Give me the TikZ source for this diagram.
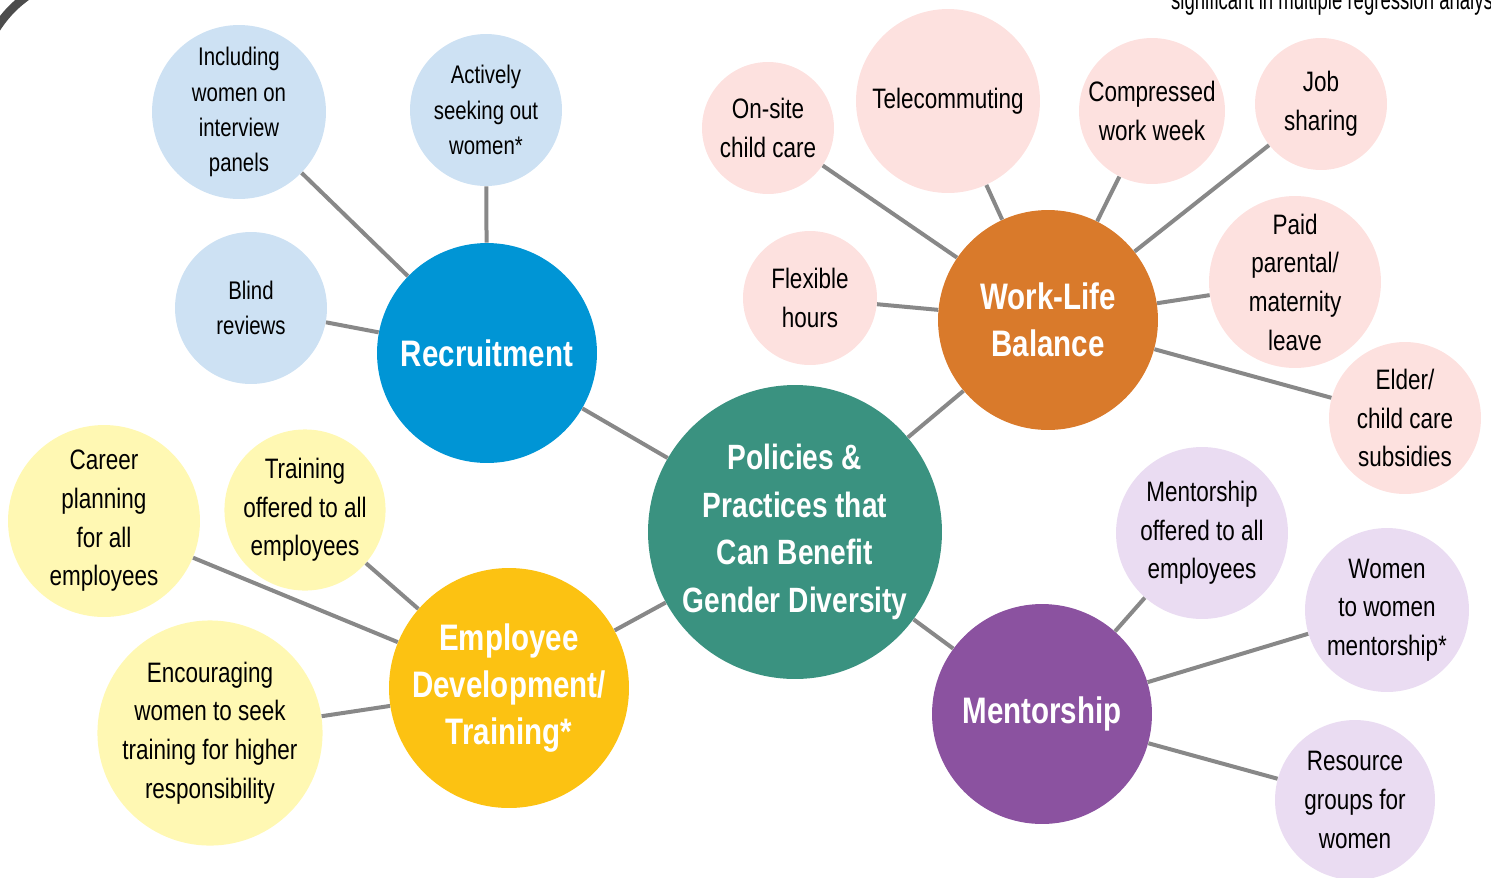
\documentclass[tikz,border=0pt]{standalone}
\usepackage{fontspec}
\setmainfont{Liberation Sans}[FakeStretch=0.8]
\newfontfamily\notefont{Liberation Sans}[FakeStretch=0.66]
\definecolor{polteal}{HTML}{3A9280}
\definecolor{recblue}{HTML}{0095D5}
\definecolor{wlborange}{HTML}{D97A2B}
\definecolor{devyellow}{HTML}{FCC212}
\definecolor{menpurple}{HTML}{8B52A0}
\definecolor{recleaf}{HTML}{CDE1F3}
\definecolor{wlbleaf}{HTML}{FDE1DF}
\definecolor{devleaf}{HTML}{FFF8B3}
\definecolor{menleaf}{HTML}{EADCF2}
\definecolor{linkgray}{HTML}{888888}
\begin{document}
\begin{tikzpicture}
[x=0.02cm,y=-0.02cm,
hub/.style={shape=circle,inner sep=0pt,align=center,text=white,font=\bfseries\fontsize{21}{27}\selectfont},
leaf/.style={shape=circle,inner sep=0pt,align=center,font=\fontsize{16}{22}\selectfont},
recleaf/.style={leaf,fill=recleaf,font=\fontsize{14.5}{20}\selectfont},
wlbleaf/.style={leaf,fill=wlbleaf},
devleaf/.style={leaf,fill=devleaf},
menleaf/.style={leaf,fill=menleaf},
link/.style={draw=linkgray,line width=0.08cm}]

\useasboundingbox (0,0) rectangle (1491,877);
\draw[line width=0.17cm,draw=black!70] (-6,32) .. controls (4,16) and (14,5) .. (30,-6);
\node[anchor=base west,font=\notefont\fontsize{16}{18}\selectfont] (note) at (1165,9) {significant in multiple regression analysis};

\node[hub,fill=polteal,minimum size=5.88cm,font=\bfseries\fontsize{20}{27}\selectfont] (policies) at (795,532) {Policies \&\\Practices that\\Can Benefit\\Gender Diversity};
\node[hub,fill=recblue,minimum size=4.4cm] (recruit) at (487,353) {Recruitment};
\node[hub,fill=wlborange,minimum size=4.4cm] (wlb) at (1048,320) {Work-Life\\Balance};
\node[hub,fill=devyellow,minimum size=4.8cm] (dev) at (509,688) {Employee\\Development/\\Training*};
\node[hub,fill=menpurple,minimum size=4.4cm] (ment) at (1042,714) {Mentorship};

\node[recleaf,minimum size=3.48cm] (including) at (239,112) {Including\\women on\\interview\\panels};
\node[recleaf,minimum size=3.04cm] (actively) at (486,110) {Actively\\seeking out\\women*};
\node[recleaf,minimum size=3.04cm] (blind) at (251,308) {Blind\\reviews};

\node[wlbleaf,minimum size=2.64cm] (onsite) at (768,128) {On-site\\child care};
\node[wlbleaf,minimum size=3.68cm] (telecom) at (948,101) {Telecommuting};
\node[wlbleaf,minimum size=2.92cm] (compressed) at (1152,111) {Compressed\\work week};
\node[wlbleaf,minimum size=2.64cm] (jobshare) at (1321,104) {Job\\sharing};
\node[wlbleaf,minimum size=2.68cm] (flexible) at (810,298) {Flexible\\hours};
\node[wlbleaf,minimum size=3.44cm] (parental) at (1295,282) {Paid\\parental/\\maternity\\leave};
\node[wlbleaf,minimum size=3.04cm] (elder) at (1405,418) {Elder/\\child care\\subsidies};

\node[devleaf,minimum size=3.84cm] (career) at (104,521) {Career\\planning\\for all\\employees};
\node[devleaf,minimum size=3.16cm] (training) at (305,510) {Training\\offered to all\\employees};
\node[devleaf,minimum size=4.48cm] (encourage) at (210,733) {Encouraging\\women to seek\\training for higher\\responsibility};

\node[menleaf,minimum size=3.44cm] (mentall) at (1202,533) {Mentorship\\offered to all\\employees};
\node[menleaf,minimum size=3.28cm] (womenmen) at (1387,610) {Women\\to women\\mentorship*};
\node[menleaf,minimum size=3.2cm] (resource) at (1355,800) {Resource\\groups for\\women};

\foreach \a/\b in {policies/recruit,policies/wlb,policies/dev,policies/ment,
  recruit/including,recruit/actively,recruit/blind,
  wlb/onsite,wlb/telecom,wlb/compressed,wlb/jobshare,wlb/flexible,wlb/parental,wlb/elder,
  dev/career,dev/training,dev/encourage,
  ment/mentall,ment/womenmen,ment/resource}
  \draw[link] (\a) -- (\b);
\end{tikzpicture}
\end{document}
